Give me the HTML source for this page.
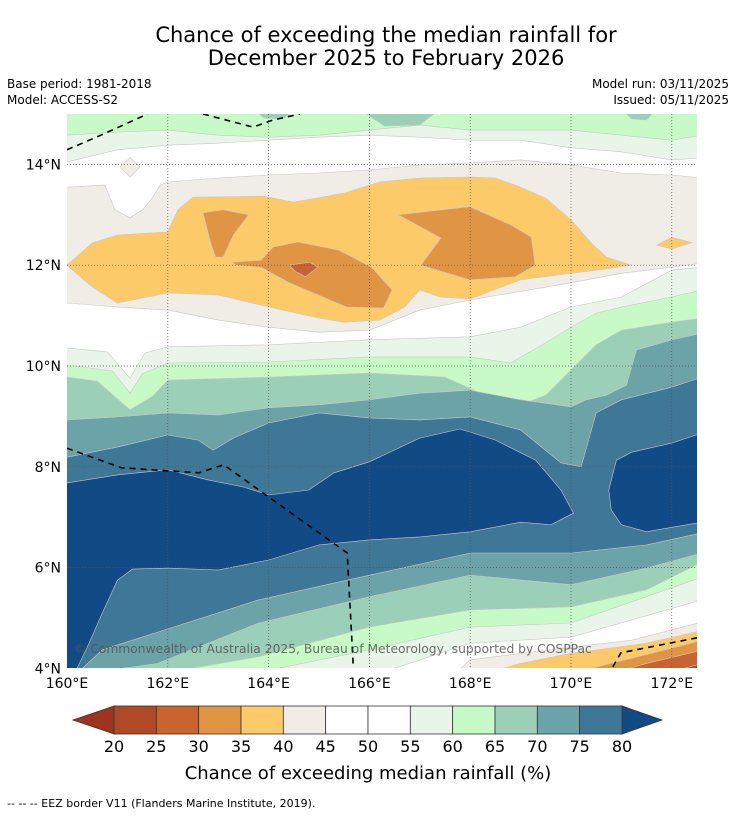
<!DOCTYPE html>
<html><head><meta charset="utf-8"><style>
html,body{margin:0;padding:0;background:#fff;}
body{width:736px;height:816px;overflow:hidden;font-family:"Liberation Sans","DejaVu Sans",sans-serif;}
svg text{font-family:"DejaVu Sans","Liberation Sans",sans-serif;}
</style></head><body>
<svg id="chart" width="736" height="816" viewBox="0 0 736 816" xmlns="http://www.w3.org/2000/svg">
<defs><clipPath id="mapclip"><rect x="67" y="114" width="630" height="554"/></clipPath></defs>
<text x="386" y="42" font-size="21" text-anchor="middle" fill="#000">Chance of exceeding the median rainfall for</text>
<text x="386" y="65" font-size="21" text-anchor="middle" fill="#000">December 2025 to February 2026</text>
<text x="7" y="88" font-size="12">Base period: 1981-2018</text>
<text x="7" y="104" font-size="12">Model: ACCESS-S2</text>
<text x="729" y="88" font-size="12" text-anchor="end">Model run: 03/11/2025</text>
<text x="729" y="104" font-size="12" text-anchor="end">Issued: 05/11/2025</text>
<g id="map" clip-path="url(#mapclip)"></g>
<g id="axes"></g>
<g id="cbar"></g>
<text x="368" y="779" font-size="18" text-anchor="middle">Chance of exceeding median rainfall (%)</text>
<text x="7" y="807" font-size="11">--  --  -- EEZ border V11 (Flanders Marine Institute, 2019).</text>
</svg>
<script>
// colorbar data
const levels=[20,25,30,35,40,45,50,55,60,65,70,75,80];
const binColors=["#b04a26","#c96330","#e09545","#fdca6a","#f0ece6","#ffffff","#ffffff","#eaf5e9","#c8fac8","#9ccfb8","#6ca3a8","#3f7797"];
const underColor="#9e3420";
const overColor="#124a85";
const lonTicks=[160,162,164,166,168,170,172];
const latTicks=[4,6,8,10,12,14];
// contour bands: [fillColor, polygon of [lon,lat]]
const bandN55=[[159.9,15.1],[172.6,15.1],[172.6,14.13],[172,14.09],[171,14.25],[170,14.33],[169,14.48],[168,14.48],[167,14.54],[166,14.58],[165,14.54],[164,14.48],[163,14.42],[162,14.38],[161,14.29],[160,14.05],[159.9,14.05]];
const bandN60=[[159.9,15.1],[172.6,15.1],[172.6,14.58],[172,14.48],[171,14.58],[170,14.68],[169,14.68],[168,14.68],[167,14.78],[166,14.68],[165,14.58],[164,14.54],[163,14.58],[162,14.68],[161,14.64],[160,14.58],[159.9,14.58]];
const bandN65a=[[163.7,15.1],[164.5,15.1],[164.3,14.9],[163.9,14.92]];
const bandN65b=[[165.8,15.1],[167.4,15.1],[167.0,14.78],[166.3,14.76]];
const bandN65c=[[171.0,15.1],[171.7,15.1],[171.5,14.88],[171.2,14.9]];
const bandN45=[[159.9,13.55],[160,13.55],[160.75,13.59],[160.95,13.1],[161.25,12.94],[161.5,13.1],[161.7,13.35],[161.85,13.59],[162,13.65],[163,13.73],[164,13.79],[165,13.83],[166,13.89],[167,13.99],[168,14.03],[169,14.09],[170,13.99],[171,13.83],[172,13.79],[172.6,13.73],[172.6,12.04],[172,11.96],[171,11.84],[170,11.65],[168,11.31],[167,11.11],[166,10.71],[165,10.67],[164,10.77],[163,10.91],[162,11.11],[161,11.17],[160,11.25],[159.9,11.25]];
const bandDiamond=[[161.05,13.95],[161.25,14.13],[161.45,13.95],[161.25,13.75]];
const bandN40=[[160,12.0],[160.5,12.44],[161,12.6],[162,12.66],[162.2,13.1],[162.5,13.35],[163.9,13.37],[164.5,13.25],[165.5,13.43],[166.2,13.65],[167,13.73],[168,13.75],[168.5,13.73],[169,13.55],[169.5,13.33],[170,12.9],[170.4,12.44],[170.7,12.16],[171.2,12.0],[170.5,11.9],[170,11.84],[169,11.71],[168,11.33],[167.4,11.37],[167,11.51],[166.7,11.17],[166.2,10.91],[165.5,10.87],[165,10.95],[164,11.17],[163,11.41],[162,11.45],[161.5,11.35],[161,11.25],[160.5,11.57]];
const bandN40b=[[171.7,12.4],[172.0,12.55],[172.4,12.45],[172.0,12.32]];
const bandN35a=[[162.7,13.04],[163.1,13.1],[163.6,13.0],[163.3,12.6],[163.1,12.16],[162.95,12.16],[162.85,12.45]];
const bandN35b=[[163.28,12.06],[163.85,12.1],[164.09,12.36],[164.58,12.46],[165.39,12.3],[166.04,11.96],[166.45,11.51],[166.28,11.15],[165.55,11.17],[164.41,11.65],[163.85,11.96],[163.36,12.0]];
const bandN35c=[[166.57,13.0],[167.99,13.16],[168.8,12.8],[169.21,12.56],[169.29,12.0],[168.89,11.77],[167.99,11.71],[167.02,12.0],[167.42,12.54]];
const bandN30=[[164.41,12.0],[164.82,12.06],[164.98,11.96],[164.73,11.77],[164.53,11.88]];
const bandS55=[[159.9,10.36],[160,10.36],[160.8,10.28],[161.25,9.76],[161.55,10.26],[162,10.38],[164,10.42],[166,10.52],[168,10.58],[169,10.77],[170,11.17],[171,11.37],[172,11.9],[172.6,11.96],[172.6,5.36],[170,4.62],[168,4.5],[166.2,3.9],[159.9,3.9]];
const bandS60=[[159.9,10.02],[160,10.02],[160.9,9.9],[161.25,9.46],[161.5,9.85],[162,10.06],[164,10.08],[166,10.18],[168,10.18],[168.8,10.06],[169.5,10.46],[170,10.77],[170.5,11.05],[171,11.17],[172,11.37],[172.6,11.51],[172.6,5.81],[170,4.9],[168,4.82],[166,4.37],[163.7,3.9],[159.9,3.9]];
const bandS65=[[159.9,9.78],[160,9.78],[160.6,9.7],[161.25,9.13],[161.7,9.4],[162,9.72],[164,9.78],[166,9.86],[167.5,9.78],[168.5,9.33],[169,9.23],[169.5,9.42],[170,9.92],[170.5,10.42],[171,10.71],[172,10.87],[172.6,10.95],[172.6,6.11],[171.5,5.56],[170,5.22],[168,5.16],[166,4.82],[163.8,4.23],[161.9,3.9],[159.9,3.9]];
const bandS70=[[159.9,8.93],[160,8.93],[161,8.99],[162,9.07],[163,9.03],[164,9.17],[165,9.23],[166,9.33],[167,9.46],[168,9.52],[169,9.33],[170,9.19],[170.3,9.33],[170.7,9.42],[171.1,9.62],[171.3,10.32],[172,10.52],[172.6,10.65],[172.6,6.29],[171.5,5.99],[170,5.66],[168,5.85],[166,5.42],[163.8,4.9],[161.8,4.1],[160.4,3.9],[159.9,3.9]];
const bandS75=[[159.9,8.19],[160,8.19],[161,8.39],[162,8.63],[162.6,8.53],[162.9,8.33],[163.3,8.57],[164,8.87],[165,9.07],[166,8.97],[167,8.93],[168,8.99],[169,8.73],[169.8,8.08],[170.2,8.0],[170.5,9.07],[171,9.33],[172,9.58],[172.6,9.78],[172.6,6.69],[171.5,6.45],[170,6.29],[168,6.29],[166,5.85],[163.8,5.36],[161.8,4.72],[160.7,4.37],[160.2,3.9],[159.9,3.9]];
const bandS80=[[159.9,7.68],[160,7.68],[161,7.84],[162,7.94],[162.8,7.74],[163.5,7.6],[164,7.44],[164.8,7.54],[165.3,7.88],[166,8.1],[167,8.57],[167.8,8.75],[168.5,8.53],[169.3,8.13],[169.8,7.54],[170.05,7.08],[169.6,6.85],[169,6.9],[168,6.71],[167,6.61],[166,6.55],[165,6.45],[164,6.15],[163,5.95],[162,5.99],[161.3,5.97],[161,5.75],[160.7,5.1],[160.4,4.42],[160.15,3.9],[159.9,3.9]];
const bandS80b=[[170.75,7.54],[170.9,8.13],[171.2,8.29],[172,8.47],[172.6,8.67],[172.6,6.9],[172,6.8],[171.5,6.71],[171,6.85],[170.8,7.14]];
const bandSE45=[[167.7,3.9],[168,4.17],[170,4.42],[171.2,4.56],[172.6,4.92],[172.6,3.9]];
const bandSE40=[[168.3,3.9],[169,4.1],[170,4.3],[171.5,4.5],[172.6,4.75],[172.6,3.9]];
const bandSE35=[[170,3.9],[171,4.15],[172,4.4],[172.6,4.56],[172.6,3.9]];
const bandSE30=[[170.8,3.9],[171.5,4.1],[172.6,4.36],[172.6,3.9]];
const bandSE25=[[171.9,3.9],[172.6,4.1],[172.6,3.9]];
const eezTop=[[160,14.29],[160.67,14.58],[161.6,15.0]];
const eezTop2=[[162.7,15.0],[163.69,14.74],[164.09,14.88],[164.62,15.0]];
const eezMid=[[160,8.37],[161.08,7.98],[162.62,7.88],[163.11,8.04],[165.56,6.29],[165.68,4.03]];
const eezSE=[[170.83,4.03],[170.99,4.31],[172.56,4.62]];

const NS="http://www.w3.org/2000/svg";
const X=lon=>67+(lon-160)*50.4;
const Y=lat=>114+(15-lat)*50.4;
const map=document.getElementById('map');
const bg=document.createElementNS(NS,'rect');


bg.setAttribute('x',67);bg.setAttribute('y',114);bg.setAttribute('width',630);bg.setAttribute('height',554);bg.setAttribute('fill','#ffffff');
map.appendChild(bg);
function poly(pts,fill,name){
  const p=document.createElementNS(NS,'polygon');
  
  
  p.setAttribute('points',pts.map(q=>X(q[0]).toFixed(1)+','+Y(q[1]).toFixed(1)).join(' '));
  p.setAttribute('fill',fill);p.setAttribute('stroke','#c8c8c8');p.setAttribute('stroke-width','0.6');
  map.appendChild(p);
}
const bands=[
 [bandN55,binColors[7],'band-north-55'],[bandN60,binColors[8],'band-north-60'],
 [bandN65a,binColors[9],'band-north-65a'],[bandN65b,binColors[9],'band-north-65b'],[bandN65c,binColors[9],'band-north-65c'],
 [bandS55,binColors[7],'band-south-55'],[bandS60,binColors[8],'band-south-60'],[bandS65,binColors[9],'band-south-65'],
 [bandS70,binColors[10],'band-south-70'],[bandS75,binColors[11],'band-south-75'],[bandS80,overColor,'band-south-80'],[bandS80b,overColor,'band-east-80'],
 [bandN45,binColors[4],'band-north-45'],[bandDiamond,binColors[4],'band-diamond-45'],[bandN40,binColors[3],'band-north-40'],[bandN40b,binColors[3],'band-east-40'],
 [bandN35a,binColors[2],'band-35-west'],[bandN35b,binColors[2],'band-35-centre'],[bandN35c,binColors[2],'band-35-east'],[bandN30,binColors[1],'band-30'],
 [bandSE45,binColors[4],'band-se-45'],[bandSE40,binColors[3],'band-se-40'],[bandSE35,binColors[2],'band-se-35'],[bandSE30,binColors[1],'band-se-30'],[bandSE25,binColors[0],'band-se-25']
];
bands.forEach(b=>poly(b[0],b[1],b[2]));
// grid
lonTicks.slice(1).forEach(l=>{const g=document.createElementNS(NS,'line');


g.setAttribute('x1',X(l));g.setAttribute('x2',X(l));g.setAttribute('y1',114);g.setAttribute('y2',668);g.setAttribute('stroke','#555');g.setAttribute('stroke-width','0.7');g.setAttribute('stroke-dasharray','1,2');map.appendChild(g);});
latTicks.slice(1).forEach(l=>{const g=document.createElementNS(NS,'line');


g.setAttribute('y1',Y(l));g.setAttribute('y2',Y(l));g.setAttribute('x1',67);g.setAttribute('x2',697);g.setAttribute('stroke','#555');g.setAttribute('stroke-width','0.7');g.setAttribute('stroke-dasharray','1,2');map.appendChild(g);});
[eezTop,eezTop2,eezMid,eezSE].forEach(e=>{const pl=document.createElementNS(NS,'polyline');


pl.setAttribute('points',e.map(q=>X(q[0]).toFixed(1)+','+Y(q[1]).toFixed(1)).join(' '));
pl.setAttribute('fill','none');pl.setAttribute('stroke','#000');pl.setAttribute('stroke-width','1.6');pl.setAttribute('stroke-dasharray','6,5');map.appendChild(pl);});
const cr=document.createElementNS(NS,'text');


cr.setAttribute('x',74);cr.setAttribute('y',653);cr.setAttribute('font-size','12.3');cr.setAttribute('fill','#555');cr.setAttribute('fill-opacity','0.85');
cr.textContent='© Commonwealth of Australia 2025, Bureau of Meteorology, supported by COSPPac';map.appendChild(cr);
// axes labels
const axes=document.getElementById('axes');
lonTicks.forEach(l=>{const t=document.createElementNS(NS,'text');


t.setAttribute('x',X(l));t.setAttribute('y',688);t.setAttribute('font-size','14');t.setAttribute('text-anchor','middle');t.textContent=l+'°E';axes.appendChild(t);});
latTicks.forEach(l=>{const t=document.createElementNS(NS,'text');


t.setAttribute('x',61);t.setAttribute('y',Y(l)+5);t.setAttribute('font-size','14');t.setAttribute('text-anchor','end');t.textContent=l+'°N';axes.appendChild(t);});
// colorbar
const cb=document.getElementById('cbar');
const cx0=114,cx1=622,cy0=706,cy1=734,bw=(cx1-cx0)/binColors.length;
function cpoly(pts,fill,name){const p=document.createElementNS(NS,'polygon');


p.setAttribute('points',pts);p.setAttribute('fill',fill);p.setAttribute('stroke','#333');p.setAttribute('stroke-width','0.8');cb.appendChild(p);}
cpoly(`${cx0},${cy0} ${cx0},${cy1} 73,${(cy0+cy1)/2}`,underColor,'colorbar-under-arrow');
cpoly(`${cx1},${cy0} ${cx1},${cy1} 662,${(cy0+cy1)/2}`,overColor,'colorbar-over-arrow');
binColors.forEach((c,i)=>{const r=document.createElementNS(NS,'rect');


r.setAttribute('x',cx0+i*bw);r.setAttribute('y',cy0);r.setAttribute('width',bw);r.setAttribute('height',cy1-cy0);r.setAttribute('fill',c);r.setAttribute('stroke','#333');r.setAttribute('stroke-width','0.8');cb.appendChild(r);});
levels.forEach((v,i)=>{const t=document.createElementNS(NS,'text');


t.setAttribute('x',cx0+i*bw);t.setAttribute('y',752);t.setAttribute('font-size','16');t.setAttribute('text-anchor','middle');t.textContent=v;cb.appendChild(t);});
</script>
</body></html>
